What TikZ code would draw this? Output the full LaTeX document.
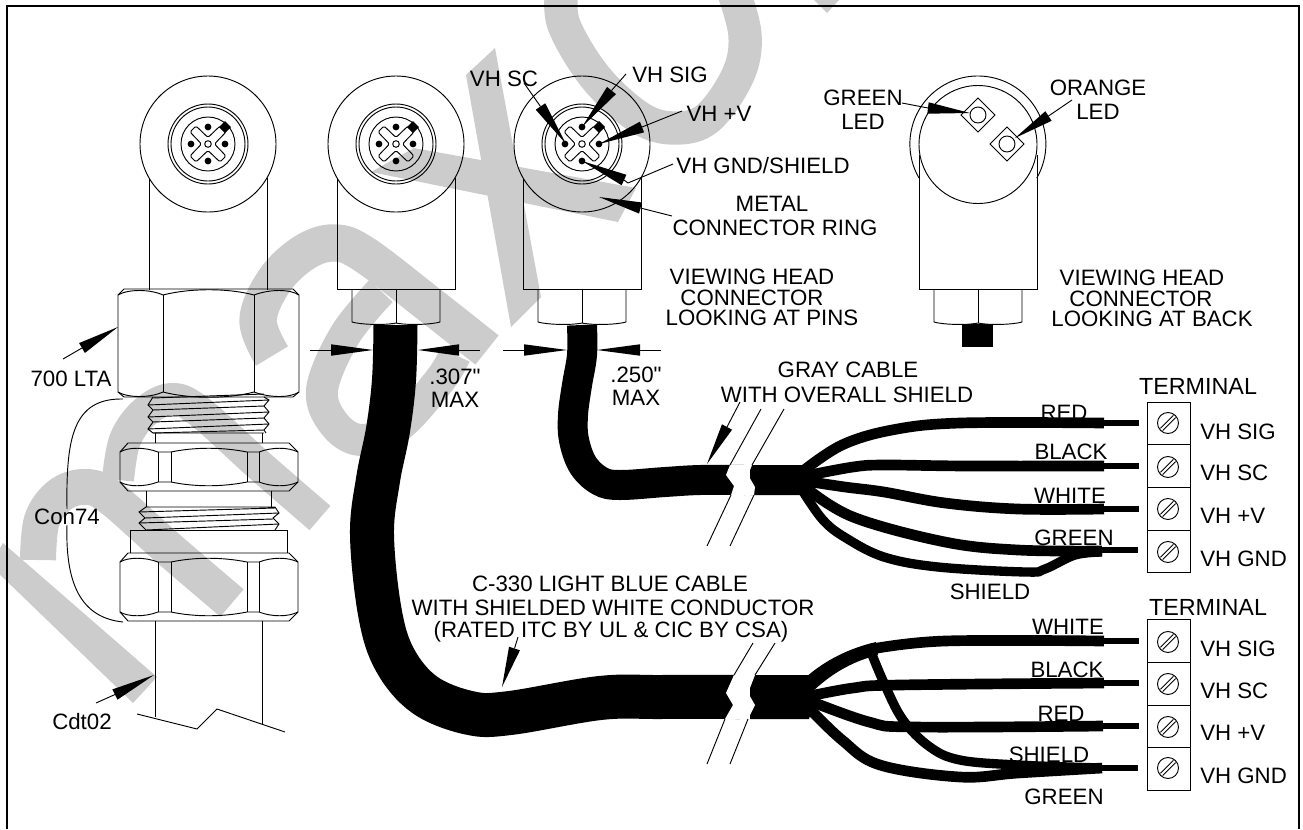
\documentclass[tikz,border=0pt]{standalone}
\usepackage{fontspec}
\setmainfont{Liberation Sans}
\newfontfamily\plainsans{Liberation Sans}
\usetikzlibrary{calc}
\definecolor{wm}{HTML}{CCCCCC}
\tikzset{
  lab/.style={font=\plainsans\fontsize{16.7}{18}\selectfont, inner sep=0pt, text=black},
  labw/.style={font=\plainsans\fontsize{17.5}{18}\selectfont, inner sep=0pt, text=black},
  thinl/.style={line width=0.7pt, black},
  wmark/.style={draw=wm, line cap=butt, line join=round},
  wire/.style={line width=8pt, black, line join=round},
  thinwire/.style={line width=4.5pt, black},
}
% leader: tip, base centre, free end
\newcommand{\wedgeleader}[5][4.3pt]{%
  \coordinate (#2-t) at #3; \coordinate (#2-b) at #4; \coordinate (#2-f) at #5;
  \draw[thinl] (#2-f) -- (#2-b);
  \fill[black] (#2-t) -- ($(#2-b)!#1!90:(#2-t)$) -- ($(#2-b)!#1!-90:(#2-t)$) -- cycle;
}
% pin-side connector head at x centre #1
\newcommand{\pinhead}[1]{%
  \begin{scope}[shift={(#1,144)}, thinl]
    \draw (0,0) circle [radius=68];
    \draw (0,0) circle [radius=40];
    \draw (0,0) circle [radius=37];
    \draw (0,0) circle [radius=27];
    \draw (0,0) circle [radius=3.3];
    \draw[rounded corners=1.2pt] (-12,-18) -- (0,-6.5) -- (12,-18) -- (18,-12) -- (6.5,0) -- (18,12) -- (12,18) -- (0,6.5) -- (-12,18) -- (-18,12) -- (-6.5,0) -- (-18,-12) -- cycle;
    \fill[black] (0,-17) circle [radius=3.4] (17,0) circle [radius=3.4] (0,17) circle [radius=3.4] (-17,0) circle [radius=3.4];
    \fill[black] (17,-23) -- (23,-17) -- (17,-11) -- (11,-17) -- cycle;
  \end{scope}}
% body below a head: centre x #1, half width of nut #2
\newcommand{\headbody}[3][178]{%
  \begin{scope}[shift={(#2,0)}, thinl]
    \draw (-59,#1) -- (-59,289) -- (59,289) -- (59,#1);
    \draw (-#3,289) -- (-#3,322) .. controls (-#3+8,324.5) and (-12,325.5) .. (0,323)
          .. controls (12,325.5) and (#3-8,324.5) .. (#3,322) -- (#3,289);
    \draw (0,289) -- (0,323);
  \end{scope}}
% small hexagonal nut between y=#1 and y=#2
\newcommand{\nutsmall}[2]{%
  \begin{scope}[thinl]
    \draw (128,#1) -- (289,#1) -- (298,#1+9) -- (298,#2-9) -- (289,#2) -- (128,#2) -- (120,#2-9) -- (120,#1+9) -- cycle;
    \draw (120,#1+9) .. controls (128,#1+4) and (145,#1+4) .. (158,#1+9) -- (171,#1+9)
          .. controls (195,#1+4) and (222,#1+4) .. (247,#1+9) -- (259,#1+9)
          .. controls (272,#1+4) and (288,#1+4) .. (298,#1+9);
    \draw (120,#2-9) .. controls (128,#2-4) and (145,#2-4) .. (158,#2-9) -- (171,#2-9)
          .. controls (195,#2-4) and (222,#2-4) .. (247,#2-9) -- (259,#2-9)
          .. controls (272,#2-4) and (288,#2-4) .. (298,#2-9);
    \draw (158,#1+9) -- (158,#2-9) (171,#1+9) -- (171,#2-9) (247,#1+9) -- (247,#2-9) (259,#1+9) -- (259,#2-9);
  \end{scope}}
\newcommand{\screw}[1]{%
  \begin{scope}[shift={(1168,#1)}, thinl]
    \draw (0,0) circle [radius=10.5];
    \draw (-7.6,5.4) -- (5.4,-7.6) (-5.4,7.6) -- (7.6,-5.4);
  \end{scope}}
\begin{document}
\begin{tikzpicture}[x=0.75pt,y=-0.75pt]
\useasboundingbox (0,0) rectangle (1303,829);

% ---------- watermark ----------
\begin{scope}
\clip (0,0) rectangle (1303,829);
\fill[wm] (3,543) -- (157,677) -- (133,703) -- (-10,565) -- cycle;
\draw[wmark, line width=27pt] plot[smooth,tension=0.6] coordinates {(38,560) (42,520) (60,495) (85,487) (110,497) (170,550) (232,603)};
\draw[wmark, line width=24pt] plot[smooth,tension=0.6] coordinates {(118,480) (125,440) (145,412) (172,399) (200,412) (260,466) (320,518)};
\draw[wmark, line width=28pt] plot[smooth,tension=0.6] coordinates {(272,356) (258,320) (275,280) (305,252) (335,243) (365,255) (430,305) (487,350)};
\draw[wmark, line width=24pt] plot[smooth,tension=0.6] coordinates {(381,291) (345,335) (322,390) (335,425) (362,440) (400,425) (440,380) (455,355)};
\fill[wm] (466,75) -- (495,48) -- (541,297) -- (511,327) -- cycle;
\fill[wm] (371,172) -- (414,148) -- (636,188) -- (618,222) -- cycle;
\draw[wmark, line width=25pt] plot[smooth,tension=0.6] coordinates {(562,-10) (564,25) (596,78) (640,118) (675,128) (708,118) (738,75) (745,35) (733,-10)};
\fill[wm] (814,0) -- (827,13) -- (839,0) -- cycle;
\end{scope}

% ---------- frame (open at the foot of the page) ----------
\draw[line width=1.9pt, black] (7,829) -- (7,6) -- (1299,6) -- (1299,829);

% ---------- cables ----------
\draw[line width=33pt, black] plot[smooth,tension=0.6] coordinates {(395.5,325) (394,380) (388,430) (378,480) (372,535) (380,613) (395,660) (425,695) (470,713) (510,713) (600,698) (660,697) (740,697)};
\draw[line width=22.5pt, black] plot[smooth,tension=0.6] coordinates {(582,325) (582,355) (577,385) (573,415) (574,440) (583,465) (600,481) (620,485) (665,482) (700,480) (745,480)};
% second cable pieces beyond the break
\fill[black] (750,465) -- (807,465) -- (812,480) -- (807,495) -- (750,495) -- cycle;
\fill[black] (750,675) -- (809,675) -- (816,697) -- (809,719) -- (750,719) -- cycle;
% white breaks
\fill[white] (730,465) -- (726,475) -- (734,486) -- (731,495) -- (754,495) -- (755,487) -- (748,475) -- (752,465) -- cycle;
\fill[white] (734,675) -- (726,693) -- (733,705) -- (725,719) -- (748,719) -- (755,705) -- (748,693) -- (755,675) -- cycle;
\begin{scope}[thinl]
\draw (761,409) -- (730,465) (784,409) -- (752,465) (731,495) -- (707,546) (754,495) -- (730,546);
\draw (753,643) -- (734,675) (775,643) -- (755,675) (725,719) -- (707,764) (748,719) -- (730,764);
\end{scope}

% ---------- upper wires ----------
\draw[wire] plot[smooth,tension=0.6] coordinates {(803,471) (842,445) (892,430) (960,423) (1104,423)};
\draw[wire] plot[smooth,tension=0.6] coordinates {(805,476) (853,467) (884,465) (968,466) (1104,466)};
\draw[wire] plot[smooth,tension=0.6] coordinates {(805,481) (845,487) (884,492) (945,503) (1018,509) (1104,509)};
\draw[wire] plot[smooth,tension=0.6] coordinates {(805,487) (853,517) (945,542) (1018,550) (1102,551)};
\draw[wire, line width=7pt] plot[smooth,tension=0.6] coordinates {(802,490) (823,520) (846,538) (884,557) (938,567) (1026,572) (1045,569) (1075,555) (1102,552)};
\draw[thinwire] (1100,423) -- (1139,423);
\draw[thinwire] (1100,466) -- (1139,466);
\draw[thinwire] (1100,509) -- (1139,509);
\draw[thinwire] (1100,550) -- (1138,550);

% ---------- lower wires ----------
\fill[black] (805,678) .. controls (825,660) and (850,648) .. (876,642) -- (878,655) .. controls (850,662) and (830,675) .. (812,692) -- cycle;
\draw[wire] plot[smooth,tension=0.6] coordinates {(872,649) (945,641) (1104,641)};
\draw[wire, line width=7pt] plot[smooth,tension=0.6] coordinates {(869,647) (884,683) (903,720) (930,747) (960,760) (1018,765) (1102,768)};
\draw[wire] plot[smooth,tension=0.6] coordinates {(805,697) (853,688) (899,685) (1104,683)};
\draw[wire] plot[smooth,tension=0.6] coordinates {(805,699) (869,722) (915,727) (1103,726)};
\draw[wire] plot[smooth,tension=0.6] coordinates {(805,704) (842,740) (880,765) (960,777) (1018,773) (1102,768)};
\draw[thinwire] (1100,641) -- (1139,641);
\draw[thinwire] (1100,683) -- (1139,683);
\draw[thinwire] (1100,726) -- (1139,726);
\draw[thinwire] (1100,768) -- (1138,768);

% ---------- connector heads ----------
\pinhead{208}
\draw[thinl] (149,178) -- (149,290) (267,178) -- (267,290);
\pinhead{396}
\headbody{396}{44}
\pinhead{582}
\headbody{582}{44}
% back view
\begin{scope}[thinl]
\draw (919,178) arc [start angle=150, end angle=390, radius=68];
\draw (978,144.5) circle [radius=59];
\draw (978,115) ++(0,-17) -- ++(17,17) -- ++(-17,17) -- ++(-17,-17) -- cycle;
\draw (978,115) circle [radius=8];
\draw (1007,144) ++(0,-17) -- ++(17,17) -- ++(-17,17) -- ++(-17,-17) -- cycle;
\draw (1007,144) circle [radius=8];
\end{scope}
\headbody[155]{978}{44}
\fill[black] (962,324) rectangle (993,347);

% ---------- conduit fitting ----------
\begin{scope}[thinl]
\draw (118,295) -- (124,289) -- (293,289) -- (299,295) -- (299,392) -- (293,397) -- (124,397) -- (118,392) -- cycle;
\draw (118,295) .. controls (128,289) and (150,289) .. (163,295) .. controls (190,288) and (228,288) .. (254,295) .. controls (270,289) and (290,289) .. (299,295);
\draw (118,392) .. controls (128,398) and (150,398) .. (163,392) .. controls (190,399) and (228,399) .. (254,392) .. controls (270,398) and (290,398) .. (299,392);
\draw (163,295) -- (163,392) (254,295) -- (254,392);
\draw (153,397) -- (148,405) -- (153,410) -- (148,417) -- (153,422) -- (148,429) -- (153,433) -- (264,433);
\draw (264,397) -- (269,400) -- (264,406) -- (269,412) -- (264,418) -- (269,424) -- (264,430) -- (266,433);
\draw (153,398) -- (264,394) (148,405) -- (269,400) (153,410) -- (264,406) (148,417) -- (269,412) (153,422) -- (264,418) (148,429) -- (269,424) (153,433) -- (264,430);
\draw (155,433) -- (155,443) (262,433) -- (262,443);
\end{scope}
\nutsmall{443}{491}
\begin{scope}[thinl]
\draw (146,491) -- (146,507) (271,491) -- (271,507);
\draw (146,507) -- (139,512) -- (145,518) -- (139,523) -- (146,530);
\draw (275,507) -- (279,513) -- (273,518) -- (279,524) -- (275,530);
\draw (146,507) -- (275,507) (139,512) -- (275,508) (145,518) -- (279,513) (139,523) -- (273,519) (146,530) -- (279,524);
\draw (130,553) -- (130,530) -- (287,530) -- (287,553);
\end{scope}
\nutsmall{553}{621}
\begin{scope}[thinl]
\draw (155,621) -- (155,717) (262,621) -- (262,724);
\draw (137,714) -- (197,729) -- (217,709) -- (285,732);
\end{scope}

% ---------- terminals ----------
\begin{scope}[thinl]
\draw (1147,402) rectangle (1190,572);
\draw (1147,444) -- (1190,444) (1147,487) -- (1190,487) (1147,530) -- (1190,530);
\draw (1147,619) rectangle (1190,790);
\draw (1147,662) -- (1190,662) (1147,705) -- (1190,705) (1147,747) -- (1190,747);
\end{scope}
\screw{423}\screw{467}\screw{509}\screw{552}
\screw{642}\screw{684}\screw{727}\screw{768}

% ---------- labels ----------
\node[lab] (vhsc) at (504,79) {VH SC};
\node[lab] (vhsig) at (670,75) {VH SIG};
\node[lab] (vhv) at (719,114) {VH +V};
\node[lab] (vhgnd) at (763,166) {VH GND/SHIELD};
\node[lab] (metal) at (772,204) {METAL};
\node[lab] (ring) at (775,228) {CONNECTOR RING};
\node[lab] (vh1a) at (752,277) {VIEWING HEAD};
\node[lab] (vh1b) at (752,297.5) {CONNECTOR};
\node[lab] (vh1c) at (762,318) {LOOKING AT PINS};
\node[lab] (vh2a) at (1142,278) {VIEWING HEAD};
\node[lab] (vh2b) at (1141,298.5) {CONNECTOR};
\node[lab] (vh2c) at (1152,319) {LOOKING AT BACK};
\node[lab] (gled) at (863,98) {GREEN};
\node[lab] (gled2) at (863,122) {LED};
\node[lab] (oled) at (1098,88) {ORANGE};
\node[lab] (oled2) at (1098,112) {LED};
\node[lab] (d307) at (455,377) {.307"};
\node[lab] (m307) at (455,400) {MAX};
\node[lab] (d250) at (636,375) {.250"};
\node[lab] (m250) at (636,398) {MAX};
\node[lab] (gray1) at (848,370) {GRAY CABLE};
\node[lab] (gray2) at (847,395) {WITH OVERALL SHIELD};
\node[lab] (c330a) at (610,584) {C-330 LIGHT BLUE CABLE};
\node[lab] (c330b) at (613,608) {WITH SHIELDED WHITE CONDUCTOR};
\node[lab] (c330c) at (611,632) {(RATED ITC BY UL \& CIC BY CSA)};
\node[lab] (lta) at (71,379) {700 LTA};
\node[lab] (con74) at (67,517) {Con74};
\node[lab] (cdt) at (82,722) {Cdt02};
\node[labw] (term1) at (1198,386) {TERMINAL};
\node[labw] (term2) at (1208,607) {TERMINAL};
\node[lab,anchor=west] (s1) at (1200,432) {VH SIG};
\node[lab,anchor=west] (s2) at (1200,473) {VH SC};
\node[lab,anchor=west] (s3) at (1200,516) {VH +V};
\node[lab,anchor=west] (s4) at (1200,559) {VH GND};
\node[lab,anchor=west] (b1) at (1200,649) {VH SIG};
\node[lab,anchor=west] (b2) at (1200,691) {VH SC};
\node[lab,anchor=west] (b3) at (1200,733) {VH +V};
\node[lab,anchor=west] (b4) at (1200,776) {VH GND};
\node[lab] (wr1) at (1064,413) {RED};
\node[lab] (wr2) at (1071,452) {BLACK};
\node[lab] (wr3) at (1070,496) {WHITE};
\node[lab] (wr4) at (1074,538) {GREEN};
\node[lab] (wr5) at (990,592) {SHIELD};
\node[lab] (wb1) at (1068,627) {WHITE};
\node[lab] (wb2) at (1067,670) {BLACK};
\node[lab] (wb3) at (1061,714) {RED};
\node[lab] (wb4) at (1049,755) {SHIELD};
\node[lab] (wb5) at (1064,797) {GREEN};

% ---------- leaders ----------
\wedgeleader{lsc}{(566,144)}{(540.5,106.5)}{(524,83)}
\wedgeleader{lsig}{(582,127)}{(611.5,90.5)}{(626,74)}
\wedgeleader{lv}{(599,144)}{(642,127)}{(682,111)}
\wedgeleader{lgnd}{(582,161)}{(624,180)}{(628,183)}
\coordinate (lgndk) at (673,164);
\draw[thinl] (lgnd-f) -- (lgndk);
\wedgeleader{lring}{(599,197)}{(640.5,208)}{(672,216)}
\wedgeleader{lgreen}{(970,113)}{(928,108)}{(902,103)}
\wedgeleader{lorange}{(1015,138)}{(1048.5,116)}{(1072,100)}
\wedgeleader{llta}{(118,327)}{(82,348)}{(63,359)}
\wedgeleader{lcdt}{(154,675)}{(115,694.5)}{(96,703)}
\wedgeleader{lgray}{(707,464)}{(727,427)}{(740,402)}
\wedgeleader{lc330}{(502,687)}{(514.5,648.5)}{(518,637)}
% dimension arrows
\wedgeleader{da}{(373,350)}{(331,350)}{(310,350)}
\wedgeleader{db}{(418,350)}{(459,350)}{(480,350)}
\wedgeleader{dc}{(567,350)}{(524,350)}{(503,350)}
\wedgeleader{dd}{(597,350)}{(640,350)}{(661,350)}
% Con74 curves
\coordinate (conU) at (123,399);
\coordinate (conL) at (123,622);
\draw[thinl] (con74.north) .. controls (66,440) and (72,398) .. (conU);
\draw[thinl] (con74.south) .. controls (65,590) and (85,618) .. (conL);
\end{tikzpicture}
\end{document}
